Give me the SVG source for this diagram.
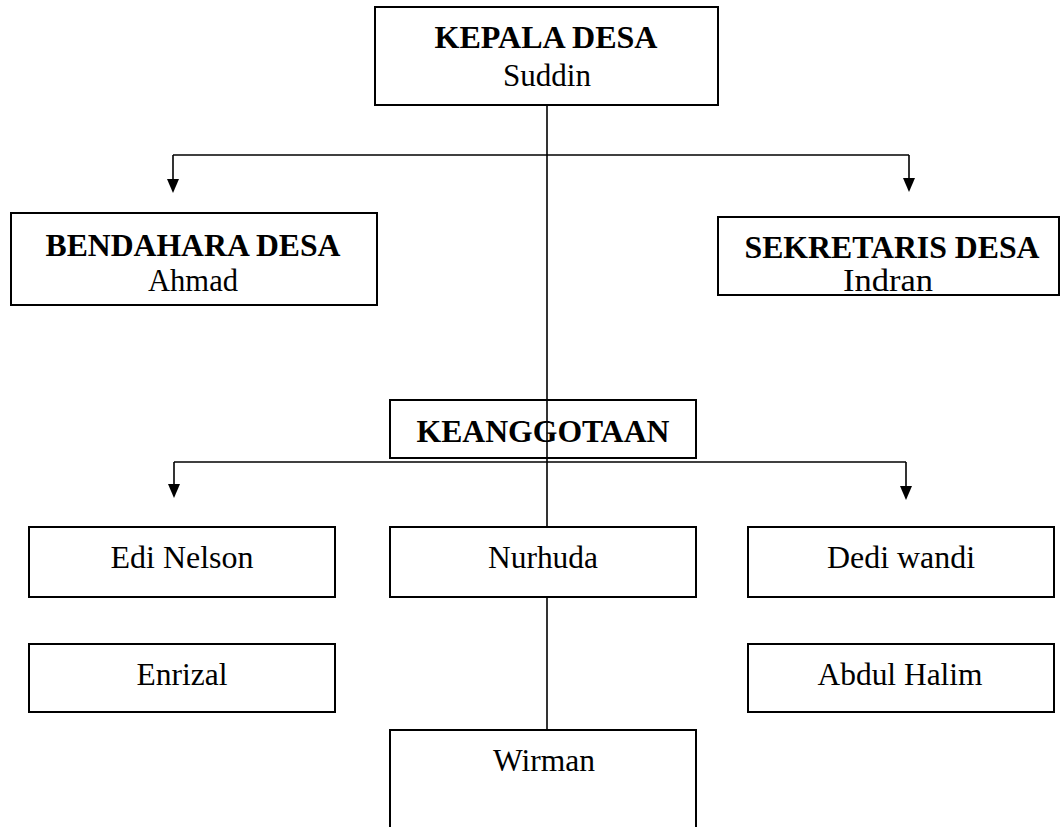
<svg xmlns="http://www.w3.org/2000/svg" width="1060" height="827" viewBox="0 0 1060 827">
<style>
.box{fill:none;stroke:#000;stroke-width:2}
.t{font-family:"Liberation Serif","Times New Roman",serif;font-size:32px;fill:#000;text-anchor:middle}
.b{font-weight:bold;font-size:31px}
.c{fill:none;stroke:#000;stroke-width:1.6}
</style>
<rect width="1060" height="827" fill="#fff"/>
<g id="connectors">
<path class="c" d="M547,105 V527"/>
<path class="c" d="M547,597 V730"/>
<path class="c" d="M173,155 H909"/>
<path class="c" d="M173,155 V179"/>
<path d="M167,179 L179,179 L173,193 Z" fill="#000"/>
<path class="c" d="M909,155 V178"/>
<path d="M903,178 L915,178 L909,192 Z" fill="#000"/>
<path class="c" d="M174,462 H906"/>
<path class="c" d="M174,462 V484"/>
<path d="M168,484 L180,484 L174,498 Z" fill="#000"/>
<path class="c" d="M906,462 V486"/>
<path d="M900,486 L912,486 L906,500 Z" fill="#000"/>
</g>
<g id="kepala">
<rect class="box" x="375" y="7" width="343" height="98"/>
<text class="t b" x="546" y="48" textLength="223" lengthAdjust="spacingAndGlyphs">KEPALA DESA</text>
<text class="t" x="547" y="86" textLength="88" lengthAdjust="spacingAndGlyphs">Suddin</text>
</g>
<g id="bendahara">
<rect class="box" x="11" y="213" width="366" height="92"/>
<text class="t b" x="193" y="256" textLength="295" lengthAdjust="spacingAndGlyphs">BENDAHARA DESA</text>
<text class="t" x="193" y="291" textLength="90" lengthAdjust="spacingAndGlyphs">Ahmad</text>
</g>
<g id="sekretaris">
<rect class="box" x="718" y="217" width="341" height="78"/>
<text class="t b" x="892" y="258" textLength="295" lengthAdjust="spacingAndGlyphs">SEKRETARIS DESA</text>
<text class="t" x="888" y="291" textLength="90" lengthAdjust="spacingAndGlyphs">Indran</text>
</g>
<g id="keanggotaan">
<rect class="box" x="390" y="400" width="306" height="58"/>
<text class="t b" x="543" y="442" textLength="253" lengthAdjust="spacingAndGlyphs">KEANGGOTAAN</text>
</g>
<g id="edi">
<rect class="box" x="29" y="527" width="306" height="70"/>
<text class="t" x="182" y="568" textLength="143" lengthAdjust="spacingAndGlyphs">Edi Nelson</text>
</g>
<g id="nurhuda">
<rect class="box" x="390" y="527" width="306" height="70"/>
<text class="t" x="543" y="568" textLength="110" lengthAdjust="spacingAndGlyphs">Nurhuda</text>
</g>
<g id="dedi">
<rect class="box" x="748" y="527" width="306" height="70"/>
<text class="t" x="901" y="568" textLength="148" lengthAdjust="spacingAndGlyphs">Dedi wandi</text>
</g>
<g id="enrizal">
<rect class="box" x="29" y="644" width="306" height="68"/>
<text class="t" x="182" y="685" textLength="91" lengthAdjust="spacingAndGlyphs">Enrizal</text>
</g>
<g id="abdul">
<rect class="box" x="748" y="644" width="306" height="68"/>
<text class="t" x="900" y="685" textLength="165" lengthAdjust="spacingAndGlyphs">Abdul Halim</text>
</g>
<g id="wirman">
<rect class="box" x="390" y="730" width="306" height="120"/>
<text class="t" x="544" y="771" textLength="102" lengthAdjust="spacingAndGlyphs">Wirman</text>
</g>
</svg>
